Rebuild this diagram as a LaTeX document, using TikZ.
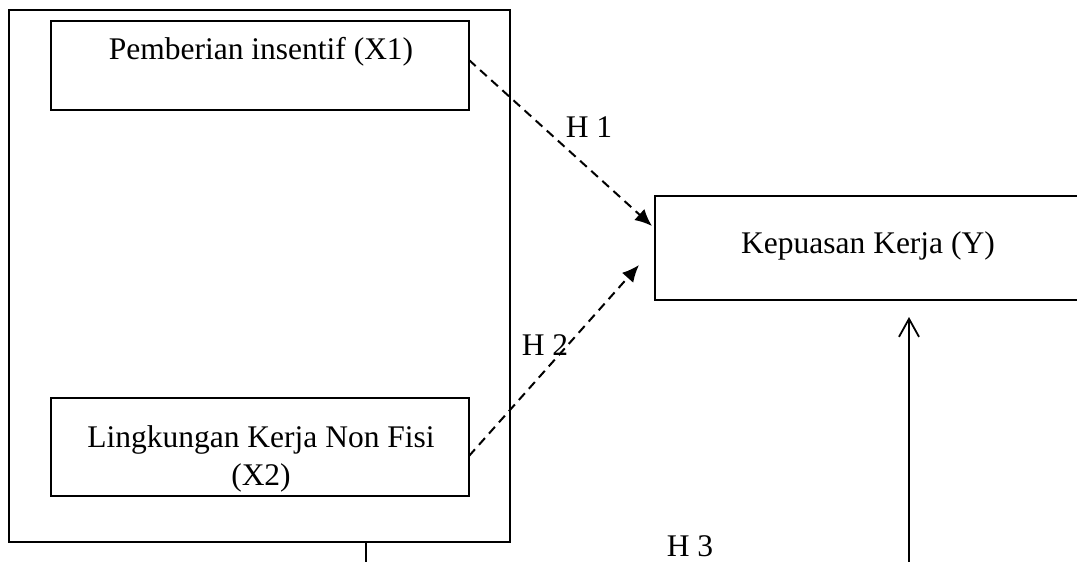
\documentclass[tikz,border=0pt]{standalone}
\usepackage{fontspec}
\setmainfont{Liberation Serif}
\usetikzlibrary{arrows.meta}
\begin{document}
\begin{tikzpicture}[x=1pt,y=-1pt,
  box/.style={draw,line width=1.7pt,inner sep=0pt},
  lbl/.style={font=\fontsize{31.5}{38}\selectfont,inner sep=0pt,align=center},
  hyp/.style={draw,line width=2pt,dash pattern=on 9pt off 6pt,-{Latex[length=17pt,width=15pt]}},
  solidarr/.style={draw,line width=1.8pt,-{Straight Barb[length=18pt,width=20pt]}}]
\useasboundingbox (0,0) rectangle (1077,562);
\clip (0,0) rectangle (1077,562);
% outer frame
\draw[line width=1.7pt] (9,10) rectangle (510,542);
% boxes
\node[box,minimum width=418pt,minimum height=89pt] (x1) at (260,65.5) {};
\node[box,minimum width=418pt,minimum height=98pt] (x2) at (260,447) {};
\node[box,minimum width=440pt,minimum height=104pt] (y) at (875,248) {};
% texts
\node[lbl] (tx1) at (261,52) {Pemberian insentif (X1)};
\node[lbl] (tx2) at (261,459) {Lingkungan Kerja Non Fisi\\(X2)};
\node[lbl] (ty) at (868,246) {Kepuasan Kerja (Y)};
\node[lbl] (h1) at (589,127) {H 1};
\node[lbl] (h2) at (545,345) {H 2};
\node[lbl] (h3) at (690,546) {H 3};
% connectors
\coordinate (s1) at (469,60);
\coordinate (e1) at (652,226);
\coordinate (s2) at (469,456);
\coordinate (e2) at (639,265);
\draw[hyp] (s1) -- (e1);
\draw[hyp] (s2) -- (e2);
\coordinate (b3) at (909,565);
\coordinate (t3) at (909,317);
\draw[solidarr] (b3) -- (t3);
\coordinate (v1) at (366,542);
\coordinate (v2) at (366,565);
\draw[line width=1.7pt] (v1) -- (v2);
\end{tikzpicture}
\end{document}
